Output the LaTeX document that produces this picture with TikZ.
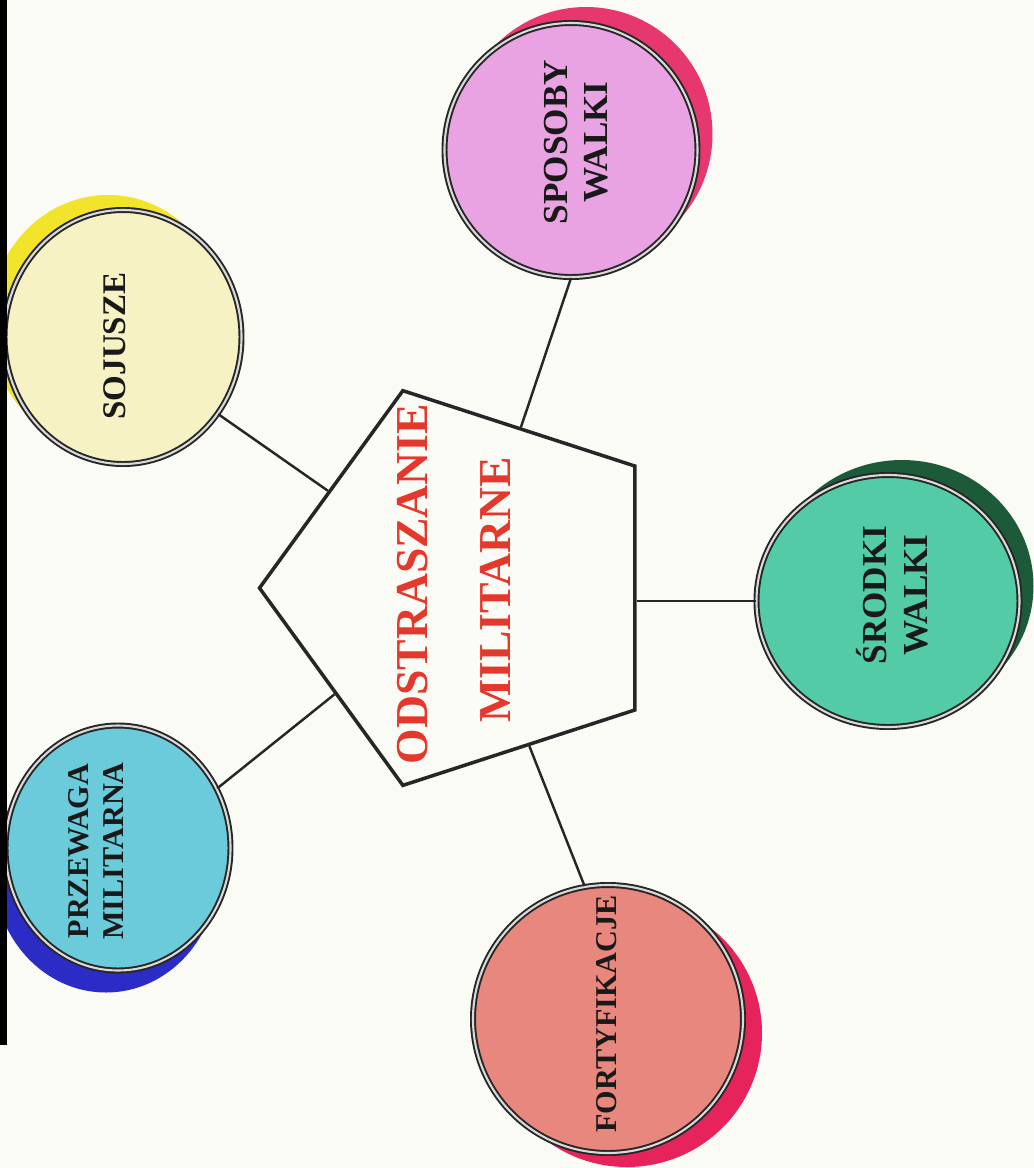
\documentclass[tikz,border=0pt]{standalone}
\usepackage{fontspec}
\setmainfont{Liberation Serif}
\usetikzlibrary{shapes.geometric,shadows}

\definecolor{paper}{HTML}{FBFBF6}
\definecolor{titlered}{HTML}{E5382C}
\definecolor{sojfill}{HTML}{F7F2C4}
\definecolor{sojshade}{HTML}{F2E42A}
\definecolor{sposfill}{HTML}{E9A3E3}
\definecolor{sposshade}{HTML}{E6386F}
\definecolor{srofill}{HTML}{52CBA6}
\definecolor{sroshade}{HTML}{1D5A39}
\definecolor{fortfill}{HTML}{E8877E}
\definecolor{fortshade}{HTML}{E6245B}
\definecolor{przfill}{HTML}{6BCBDA}
\definecolor{przshade}{HTML}{2B2BC6}

\begin{document}
\begin{tikzpicture}[
  bubble/.style={ellipse, draw=black!85, line width=0.55pt, double=white!85!black, double distance=0.6pt,
                 inner sep=0pt},
  lbl/.style={rotate=90, align=center, text=black!90, inner sep=1pt},
  link/.style={draw=black!85, line width=0.7pt},
  title/.style={rotate=90, font=\bfseries\fontsize{13}{15}\selectfont, text=titlered, inner sep=1pt},
]

% Page
\fill[paper] (0,0) rectangle (10.34,-11.68);
\useasboundingbox (0,0) rectangle (10.34,-11.68);

% === Centre pentagon ===
\node[regular polygon, regular polygon sides=5, shape border rotate=90, draw=black!85,
      line width=1pt, minimum size=4.15cm, inner sep=0pt] (main) at (4.67,-5.88) {};
\node[title] (t1) at (4.13,-5.84) {ODSTRASZANIE};
\node[title] (t2) at (4.95,-5.90) {MILITARNE};

% === Outer circles ===
\node[bubble, fill=sojfill, minimum width=2.37cm, minimum height=2.54cm,
      drop shadow={shadow xshift=-0.15cm, shadow yshift=0.15cm, fill=sojshade, opacity=1}]
      (soj) at (1.23,-3.37) {};
\node[lbl, font=\bfseries\fontsize{9.4}{11}\selectfont] (soj-t) at (1.15,-3.46) {SOJUSZE};

\node[bubble, fill=sposfill, minimum width=2.53cm, minimum height=2.54cm,
      drop shadow={shadow xshift=0.15cm, shadow yshift=0.16cm, fill=sposshade, opacity=1}]
      (spos) at (5.71,-1.50) {};
\node[lbl, font=\bfseries\fontsize{10}{11.5}\selectfont] (spos-t) at (5.76,-1.42) {SPOSOBY\\WALKI};

\node[bubble, fill=srofill, minimum width=2.63cm, minimum height=2.52cm,
      drop shadow={shadow xshift=0.14cm, shadow yshift=0.15cm, fill=sroshade, opacity=1}]
      (sro) at (8.88,-6.01) {};
\node[lbl, font=\bfseries\fontsize{10}{11.5}\selectfont] (sro-t) at (8.92,-5.95) {ŚRODKI\\WALKI};

\node[bubble, fill=fortfill, minimum width=2.70cm, minimum height=2.68cm,
      drop shadow={shadow xshift=0.19cm, shadow yshift=-0.14cm, fill=fortshade, opacity=1}]
      (fort) at (6.08,-10.19) {};
\node[lbl, font=\bfseries\fontsize{8.6}{10}\selectfont] (fort-t) at (6.07,-10.14) {FORTYFIKACJE};

\node[bubble, fill=przfill, minimum width=2.25cm, minimum height=2.45cm,
      drop shadow={shadow xshift=-0.12cm, shadow yshift=-0.22cm, fill=przshade, opacity=1}]
      (prz) at (1.18,-8.48) {};
\node[lbl, font=\bfseries\fontsize{8.6}{10}\selectfont] (prz-t) at (0.96,-8.51) {PRZEWAGA\\MILITARNA};

% === Links ===
\draw[link] (main) -- (soj.-39);
\draw[link] (main) -- (spos.south);
\draw[link] (sro.west) -- (sro.west -| main.east);
\draw[link] (main) -- (fort.100);
\draw[link] (main) -- (prz.31);

% Scan edge
\fill[black] (0,0) rectangle (0.07,-10.45);

\end{tikzpicture}
\end{document}
